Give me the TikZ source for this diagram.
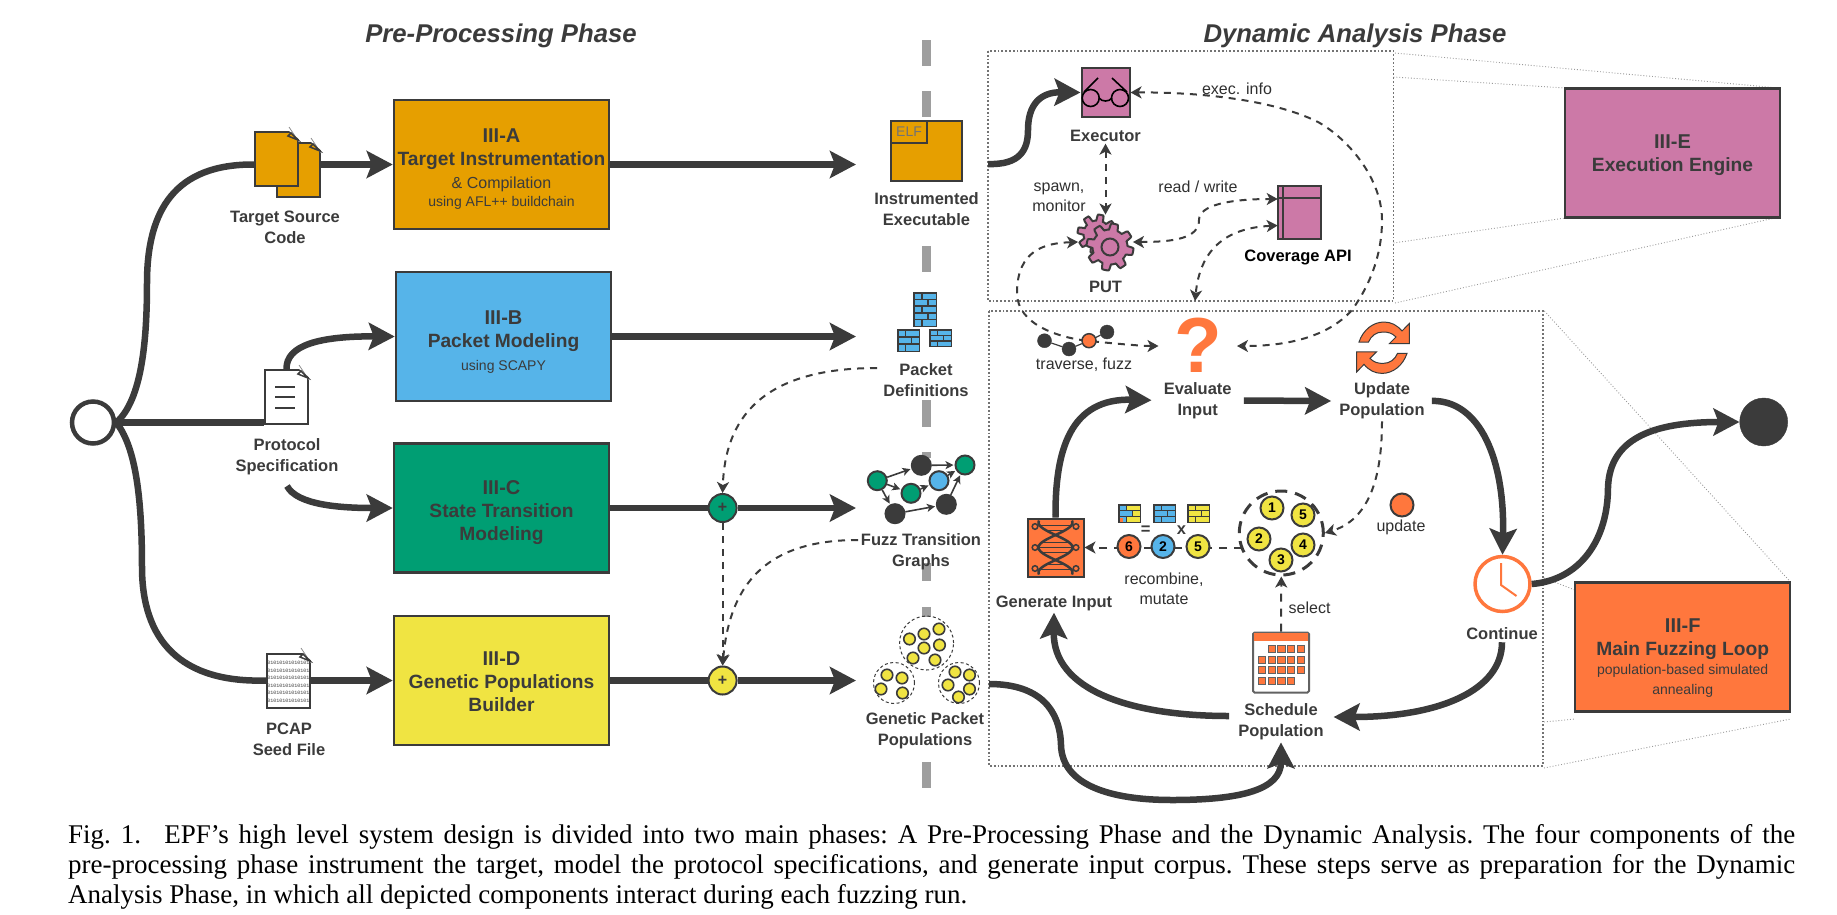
\documentclass[tikz,border=0pt]{standalone}
\usepackage{fontspec}
\setmainfont{Liberation Sans}
\setmonofont{Liberation Mono}
\newfontfamily\capfont{Liberation Serif}
\usetikzlibrary{arrows.meta}

\definecolor{ink}{HTML}{3B3B3B}
\definecolor{instrorange}{HTML}{E69F00}
\definecolor{pktblue}{HTML}{56B4E9}
\definecolor{stategreen}{HTML}{009E73}
\definecolor{geneyellow}{HTML}{F0E442}
\definecolor{enginepink}{HTML}{CC79A7}
\definecolor{looporange}{HTML}{FF773D}

\tikzset{
  phasebox/.style={draw=ink, line width=2.5pt, minimum width=215pt, minimum height=129pt, inner sep=0pt, align=center, text=ink, font=\fontsize{19.2}{23}\selectfont\bfseries},
  phasetitle/.style={text=ink, font=\fontsize{25.7}{30}\selectfont\bfseries\itshape},
  iconlabel/.style={text=ink, align=center, inner sep=2pt, font=\fontsize{16.5}{21}\selectfont\bfseries},
  linklabel/.style={text=ink!80!black, align=center, inner sep=1pt, font=\fontsize{16}{20}\selectfont},
  flowline/.style={draw=ink, line width=6.5pt},
  flow/.style={flowline, ->, >={Stealth[length=26pt,width=27pt,inset=5pt]}},
  link/.style={draw=ink, line width=2pt, dash pattern=on 7pt off 6pt, >={Stealth[length=11pt,width=12pt,inset=3pt]}},
  page/.style={draw=ink, line width=2pt, inner sep=0pt, minimum width=43pt, minimum height=54pt},
  plusdot/.style={circle, draw=ink, line width=2pt, minimum size=28pt, inner sep=0pt, text=ink, font=\fontsize{16}{16}\selectfont\bfseries},
  numdot/.style={circle, draw=ink, line width=2pt, minimum size=23pt, inner sep=0pt, text=black, font=\fontsize{14}{14}\selectfont\bfseries},
  graphdot/.style={circle, draw=ink, line width=2pt, minimum size=19pt, inner sep=0pt},
  pooldot/.style={circle, draw=ink, line width=1.6pt, fill=geneyellow, minimum size=11.5pt, inner sep=0pt},
  pool/.style={circle, draw=ink, line width=1pt, dash pattern=on 3pt off 2.5pt, inner sep=0pt},
  region/.style={draw=black!55, line width=1.8pt, dotted},
  zoomline/.style={draw=black!40, line width=0.9pt, dotted},
  axisline/.style={draw=black!38, line width=8.5pt},
  bits/.style={inner sep=0pt, text=ink, font=\fontsize{5}{5}\selectfont\ttfamily},
  edge/.style={draw=ink, line width=1.6pt, ->, >={Stealth[length=8pt,width=8pt,inset=2pt]}, shorten >=1pt}
}

% first line of a box: strut height, text
\newcommand{\boxhead}[2]{\rule{0pt}{#1pt}\fontsize{20}{23}\selectfont #2}
% corner of a page, top right at (#1,#2)
\newcommand{\cornerfold}[3]{
  \fill[white] (#1-10,#2-2) -- (#1+2,#2-2) -- (#1+2,#2+8) -- cycle;
  \draw[draw=black!45, line width=0.8pt] (#1-9,#2-5) -- (#1+1,#2+10);
  \draw[draw=ink, line width=1.5pt, fill=#3] (#1-10,#2+4) -- (#1-7,#2+1) -- (#1,#2+8) -- cycle;
}
% wall of bricks: left, top, right, bottom, rows, colours
\newcommand{\brickicon}[7]{
  \fill[ink] (#1,#2) rectangle (#3,#4);
  \foreach \k in {1,...,#5}{
    \pgfmathsetmacro{\rowtop}{#2+1.5+(\k-1)*(#4-#2-1.5)/#5}
    \pgfmathsetmacro{\rowbot}{\rowtop+(#4-#2-1.5)/#5-1.5}
    \pgfmathsetmacro{\brickcut}{#1+1.5+(#3-#1-3)*(mod(\k,2)==1 ? 0.35 : 0.65)}
    \fill[#6] (#1+1.5,\rowtop) rectangle (\brickcut-0.7,\rowbot);
    \fill[#7] (\brickcut+0.7,\rowtop) rectangle (#3-1.5,\rowbot);
  }
}
% toothed wheel: centre, radius
\newcommand{\gearwheel}[3]{
  \draw[draw=ink, line width=2pt, fill=enginepink] plot[domain=0:360, samples=193]
    ({#1+(#3-2.5+3*max(-1,min(1,2.6*sin(8*\x))))*cos(\x)}, {#2+(#3-2.5+3*max(-1,min(1,2.6*sin(8*\x))))*sin(\x)}) -- cycle;
}

\begin{document}
\begin{tikzpicture}[x=1pt,y=-1pt]
  \useasboundingbox (0,0) rectangle (1837,914);

  % the line between the two phases
  \foreach \ya/\yb in {40/66, 91/117, 246/272, 400/427, 452/458, 563/581, 607/617, 762/788}
    \draw[axisline] (926.5,\ya) -- (926.5,\yb);

  \node[phasetitle] (pretitle) at (501,36) {Pre-Processing Phase};
  \node[phasetitle] (dyntitle) at (1355,36) {Dynamic Analysis Phase};

  % regions and their zoom lines
  \draw[region] (988,51) rectangle (1393.5,301);
  \draw[region] (989,311) rectangle (1543,766);
  \draw[zoomline] (1395,53) -- (1779,88);
  \draw[zoomline] (1393.5,77) -- (1565,88);
  \draw[zoomline] (1393.5,243) -- (1565,218);
  \draw[zoomline] (1395,303) -- (1779,217);
  \draw[zoomline] (1544.4,311) -- (1790.5,582);
  \draw[zoomline] (1544,578) -- (1575,590);
  \draw[zoomline] (1544,722) -- (1575,719);
  \draw[zoomline] (1544,768) -- (1790.5,719);

  % pre-processing boxes
  \node[phasebox, fill=instrorange] (boxa) at (501.5,164.5) {\boxhead{22.4}{III-A}\\Target Instrumentation\\{\fontsize{16}{23}\selectfont\mdseries \& Compilation}\\[-5pt]{\fontsize{14}{23}\selectfont\mdseries using AFL++ buildchain}};
  \node[phasebox, fill=pktblue] (boxb) at (503.5,336.5) {\boxhead{25.4}{III-B}\\Packet Modeling\\{\fontsize{14}{23}\selectfont\mdseries using SCAPY}};
  \node[phasebox, fill=stategreen] (boxc) at (501.5,508) {\boxhead{22.4}{III-C}\\State Transition\\Modeling};
  \node[phasebox, fill=geneyellow] (boxd) at (501.5,680.5) {\boxhead{16.4}{III-D}\\Genetic Populations\\Builder};
  \node[phasebox, fill=enginepink] (boxe) at (1672.5,153) {\boxhead{18.4}{III-E}\\Execution Engine};
  \node[phasebox, fill=looporange] (boxf) at (1682.7,647) {\boxhead{35.4}{III-F}\\Main Fuzzing Loop\\[-4pt]{\fontsize{14}{23}\selectfont\mdseries population-based simulated}\\[-3pt]{\fontsize{14}{23}\selectfont\mdseries annealing}};

  % input files
  \node[circle, draw=ink, line width=4.5pt, fill=white, minimum size=42pt, inner sep=0pt] (start) at (93,422.5) {};
  \node[page, fill=instrorange] (srcback) at (298.5,170) {};
  \cornerfold{320}{143}{instrorange}
  \node[page, fill=instrorange] (srcfront) at (276.5,159) {};
  \cornerfold{298}{132}{instrorange}
  \node[page, fill=white] (protfile) at (286.5,397) {};
  \cornerfold{308}{370}{white}
  \foreach \ya in {387,397,408}
    \draw[draw=ink, line width=2pt] (275,\ya) -- (295,\ya);
  \node[page, fill=white] (pcapfile) at (288.5,680.5) {};
  \cornerfold{310}{653}{white}
  \foreach \ya in {663,671,678,686,693,701}
    \node[bits] (bits\ya) at (288.5,\ya) {01010101010101};

  \node[iconlabel] (srclabel) at (285,227) {Target Source\\Code};
  \node[iconlabel] (protlabel) at (287,457) {Protocol\\Specification};
  \node[iconlabel] (pcaplabel) at (289,739) {PCAP\\Seed File};

  % flows into the boxes
  \draw[flowline] (start.east) .. controls (142,400) and (147,340) .. (147,283) .. controls (147,210) and (175,164) .. (srcfront.west |- boxa.west);
  \draw[flowline] (start.east) -- (protfile.west |- start.east);
  \draw[flowline] (start.east) .. controls (134,445) and (142,490) .. (142,567) .. controls (142,640) and (180,683) .. (pcapfile.west);
  \draw[flow] (srcback.east |- boxa.west) -- (boxa.west);
  \draw[flow] (protfile.north) .. controls (286,345) and (320,336) .. (boxb.west);
  \coordinate (protout) at (287,486);
  \draw[flow] (protout) .. controls (297,505) and (340,508) .. (boxc.west);
  \draw[flow] (pcapfile.east) -- (boxd.west);

  % results of the boxes
  \node[draw=ink, line width=2pt, fill=instrorange, minimum width=71pt, minimum height=60pt, inner sep=0pt] (elf) at (926.5,151) {};
  \node[draw=ink, line width=2pt, minimum width=36pt, minimum height=22pt, inner sep=0pt, text=black!55, font=\fontsize{14}{14}\selectfont] (elftab) at (909,132) {ELF};
  \node[iconlabel] (elflabel) at (926.5,209) {Instrumented\\Executable};
  \brickicon{913}{292}{937}{327}{5}{pktblue}{pktblue}
  \brickicon{897}{329}{920}{352}{3}{pktblue}{pktblue}
  \brickicon{929}{329}{952}{347}{3}{pktblue}{pktblue}
  \node[iconlabel] (pktlabel) at (926,380) {Packet\\Definitions};
  \node[iconlabel] (fuzzlabel) at (921,552) {Fuzz Transition\\Graphs};
  \node[iconlabel] (poplabel) at (925,731) {Genetic Packet\\Populations};

  \coordinate (elftip) at (856,164.5);
  \coordinate (pkttip) at (856,336.5);
  \coordinate (graphtip) at (856,508);
  \coordinate (poptip) at (856,680.5);
  \node[plusdot, fill=stategreen] (plusc) at (722.6,508) {+};
  \node[plusdot, fill=geneyellow] (plusd) at (722.6,680.5) {+};
  \draw[flow] (boxa.east) -- (elftip);
  \draw[flow] (boxb.east) -- (pkttip);
  \draw[flowline] (boxc.east) -- (plusc);
  \draw[flow] (plusc) -- (graphtip);
  \draw[flowline] (boxd.east) -- (plusd);
  \draw[flow] (plusd) -- (poptip);

  \coordinate (pktout) at (877,368);
  \coordinate (fuzzout) at (858,540);
  \draw[link, ->] (pktout) .. controls (760,368) and (725,420) .. (plusc.north);
  \draw[link, ->] (plusc) -- (plusd);
  \draw[link, ->] (fuzzout) .. controls (770,540) and (730,580) .. (plusd.north);

  % transition graph
  \node[graphdot, fill=stategreen] (ga) at (877.3,480.7) {};
  \node[graphdot, fill=ink] (gb) at (921.3,465.3) {};
  \node[graphdot, fill=stategreen] (gc) at (965,465) {};
  \node[graphdot, fill=pktblue] (gd) at (939,480.7) {};
  \node[graphdot, fill=stategreen] (ge) at (911,493.3) {};
  \node[graphdot, fill=ink] (gf) at (946.3,504.3) {};
  \node[graphdot, fill=ink] (gg) at (895,513.7) {};
  \foreach \from/\to in {ga/gb, ga/ge, ga/gg, ge/gd, gd/gc, gb/gc, gg/gf, gf/gc}
    \draw[edge] (\from) -- (\to);

  % populations
  \node[pool, minimum size=54pt] (poolt) at (926.6,643) {};
  \node[pool, minimum size=41pt] (pooll) at (894,683) {};
  \node[pool, minimum size=41pt] (poolr) at (959,683) {};
  \foreach \i/\px/\py in {1/939/629, 2/924/634, 3/909.5/639, 4/924/648, 5/939.5/645, 6/913/658, 7/935/660,
      8/887/675, 9/902/678, 10/881/689, 11/902.5/693, 12/955/672, 13/969.5/675, 14/948/685, 15/969.5/689, 16/958.5/697}
    \node[pooldot] (pd\i) at (\px,\py) {};

  % execution engine
  \coordinate (elfout) at (988,164);
  \node[draw=ink, line width=2pt, fill=enginepink, minimum width=48pt, minimum height=49pt, inner sep=0pt] (execicon) at (1105.5,92.5) {};
  \draw[draw=black, line width=1.6pt] (1090.7,98) circle[radius=8.5] (1120,98) circle[radius=8.5];
  \draw[draw=black, line width=1.6pt] (1099,98) .. controls (1102,102) and (1109,102) .. (1112,98);
  \draw[draw=black, line width=1.6pt] (1084,92) -- (1098,78) (1127,92) -- (1112,78);
  \draw[flow] (elfout) .. controls (1020,165) and (1028,150) .. (1028,130) .. controls (1028,105) and (1040,92) .. (execicon.west);
  \node[iconlabel] (execlabel) at (1105.5,135.7) {Executor};
  \node[linklabel] (execinfo) at (1237,89) {exec. info};
  \node[linklabel] (spawnlabel) at (1059,197) {spawn,\\monitor};
  \node[linklabel] (rwlabel) at (1198,187) {read / write};

  \node[circle, minimum size=54.5pt, inner sep=0pt] (putnode) at (1105.5,242) {};
  \gearwheel{1097}{234}{19}
  \gearwheel{1110}{247}{23}
  \draw[draw=ink, line width=2pt] (1110,247) circle[radius=8.5];
  \node[iconlabel] (putlabel) at (1105.5,287) {PUT};

  \node[draw=ink, line width=2pt, fill=enginepink, minimum width=43pt, minimum height=53pt, inner sep=0pt] (covicon) at (1299,212.5) {};
  \draw[draw=ink, line width=2pt] (1277.7,198) -- (1320.5,198) (1283,186) -- (1283,239);
  \node[iconlabel, text=black] (covlabel) at (1298,257) {Coverage API};

  \coordinate (covtop) at (1277.7,199);
  \coordinate (covlow) at (1277.7,225.5);
  \coordinate (evaltop) at (1195,301);
  \coordinate (evalleft) at (1158.5,346);
  \coordinate (evalright) at (1237,346);
  \draw[link, <->] (execlabel.south) -- (putnode.north);
  \draw[link, <->] (putnode.east) .. controls (1175,242) and (1199,238) .. (1199,220) .. controls (1199,205) and (1230,199) .. (covtop);
  \draw[link, <->] (covlow) .. controls (1225,228) and (1200,250) .. (evaltop);
  \draw[link, <->] (putnode.west) .. controls (1045,243) and (1017,250) .. (1017,293) .. controls (1017,325) and (1060,338) .. (1089,341) .. controls (1110,343) and (1140,346) .. (evalleft);
  \draw[link, <->] (execicon.east) .. controls (1190,92) and (1270,98) .. (1318,122) .. controls (1350,140) and (1382,180) .. (1382,220) .. controls (1382,255) and (1370,285) .. (1352,310) .. controls (1325,340) and (1280,346) .. (evalright);

  % main loop, upper part
  \node[circle, draw=ink, fill=ink, minimum size=14pt, inner sep=0pt] (ta) at (1044.5,340.7) {};
  \node[circle, draw=ink, fill=ink, minimum size=14pt, inner sep=0pt] (tb) at (1069,349) {};
  \node[circle, draw=ink, line width=1.5pt, fill=looporange, minimum size=14pt, inner sep=0pt] (tc) at (1089,340.7) {};
  \node[circle, draw=ink, fill=ink, minimum size=14pt, inner sep=0pt] (td) at (1107,332) {};
  \draw[draw=ink, line width=1.2pt] (ta) -- (tb) (tb) -- (tc) (tc) -- (td);
  \node[linklabel] (travlabel) at (1084,365) {traverse, fuzz};

  \node[text=looporange, inner sep=0pt, font=\fontsize{78}{78}\selectfont\bfseries] (qmark) at (1198.5,345) {?};
  \node[iconlabel] (evallabel) at (1197.7,400.5) {Evaluate\\Input};
  \node[iconlabel] (updlabel) at (1382,401) {Update\\Population};
  \foreach \turn in {0,180}
    \draw[draw=ink, line width=1pt, fill=looporange, rotate around={\turn:(1383,347.7)}] (1359,342) .. controls (1363,330) and (1373,322) .. (1384,322) .. controls (1391,322) and (1397,325) .. (1402,331) -- (1409.3,323.5) -- (1409.3,343.5) -- (1389.5,343.5) -- (1396,337) .. controls (1392,333) and (1388,332) .. (1383,332) .. controls (1376,332) and (1371,336) .. (1368.5,342) -- cycle;

  \node[circle, draw=looporange, line width=3.5pt, fill=white, minimum size=55pt, inner sep=0pt] (clock) at (1502.5,584) {};
  \draw[draw=looporange, line width=2pt] (1501,563) -- (1501,585) -- (1516.5,596);
  \node[iconlabel] (contlabel) at (1502,634) {Continue};

  % generate input
  \node[draw=ink, line width=2pt, fill=looporange, minimum width=56pt, minimum height=58pt, inner sep=0pt] (dna) at (1055.5,547.5) {};
  \draw[draw=ink, line width=2.5pt, domain=-27:27, samples=40] plot ({1055.5+17*cos(7.2*\x)}, {547.5+\x});
  \draw[draw=ink, line width=2.5pt, domain=-27:27, samples=40] plot ({1055.5-17*cos(7.2*\x)}, {547.5+\x});
  \foreach \dy in {-22,-17,-5,0,5,17,22}
    \draw[draw=ink, line width=1.5pt] ({1055.5-17*cos(7.2*\dy)},547.5+\dy) -- ({1055.5+17*cos(7.2*\dy)},547.5+\dy);
  \foreach \dy in {-21,0,21}{
    \draw[draw=ink, line width=1.5pt] (1035,547.5+\dy) circle[radius=2.8] (1076,547.5+\dy) circle[radius=2.8];
  }
  \node[iconlabel] (genlabel) at (1054,603) {Generate Input};

  % schedule
  \node[draw=ink!80, line width=2pt, fill=white, rounded corners=1.5pt, minimum width=56pt, minimum height=60pt, inner sep=0pt] (calendar) at (1281,662.5) {};
  \fill[looporange] (1254,633) rectangle (1308,641);
  \foreach \cx/\cy in {1271.7/649, 1281.3/649, 1291/649, 1300.7/649,
      1261.7/659.7, 1271.7/659.7, 1281.3/659.7, 1291/659.7, 1300.7/659.7,
      1261.7/670, 1271.7/670, 1281.3/670, 1291/670, 1300.7/670,
      1261.7/680.7, 1271.7/680.7, 1281.3/680.7, 1291/680.7}
    \draw[draw=ink!80, line width=1pt, fill=looporange] (\cx-3.7,\cy-3.7) rectangle (\cx+3.7,\cy+3.7);
  \node[iconlabel] (schedlabel) at (1281,722) {Schedule\\Population};

  % thick flows of the loop
  \coordinate (schedin) at (1333.6,717);
  \coordinate (schedout) at (1229,716);
  \coordinate (popout) at (989,684);
  \draw[flow, shorten >=10pt] (dna.north) .. controls (1055,450) and (1070,398) .. (evallabel.west);
  \draw[flow, shorten <=10pt, shorten >=6pt] (evallabel.east) -- (updlabel.west);
  \draw[flow, shorten <=5pt] (updlabel.east) .. controls (1480,400) and (1505,460) .. (clock.north);
  \draw[flow] (contlabel.south) .. controls (1502,690) and (1440,717) .. (schedin);
  \draw[flow] (schedout) .. controls (1130,716) and (1053,690) .. (genlabel.south);
  \draw[flow] (popout) .. controls (1040,684) and (1060,710) .. (1061,745) .. controls (1062,785) and (1110,800) .. (1172,800) .. controls (1240,800) and (1281,790) .. (schedlabel.south);
  \node[circle, draw=ink, fill=ink, minimum size=48pt, inner sep=0pt] (finish) at (1763.7,422) {};
  \draw[flow] (clock.east) .. controls (1580,580) and (1608,540) .. (1608,487) .. controls (1610,440) and (1650,422) .. (finish.west);

  % recombination
  \node[circle, draw=ink, line width=3pt, dash pattern=on 12pt off 8pt, minimum size=84pt, inner sep=0pt] (cluster) at (1281.3,533) {};
  \coordinate (clusterout) at (1242,547.5);
  \draw[link, ->, dash pattern=on 8pt off 7pt] (clusterout) -- (dna.east);
  \draw[link, ->, dash pattern=on 8pt off 7pt] (calendar.north) -- (cluster.south);
  \draw[link, ->] (updlabel.south) .. controls (1382,480) and (1368,520) .. (cluster.east);
  \node[numdot, fill=geneyellow] (n1) at (1272,508) {1};
  \node[numdot, fill=geneyellow] (n5) at (1303,515) {5};
  \node[numdot, fill=geneyellow] (n2) at (1259,539) {2};
  \node[numdot, fill=geneyellow] (n4) at (1303,545) {4};
  \node[numdot, fill=geneyellow] (n3) at (1281,560) {3};
  \node[numdot, fill=looporange] (m6) at (1129,546.5) {6};
  \node[numdot, fill=pktblue] (m2) at (1163,546.5) {2};
  \node[numdot, fill=geneyellow] (m5) at (1198,546.5) {5};
  \brickicon{1118}{504}{1141}{523}{3}{pktblue}{geneyellow}
  \fill[looporange] (1119.5,518) rectangle (1123,521.5);
  \brickicon{1153}{504}{1176}{523}{3}{pktblue}{pktblue}
  \brickicon{1187}{504}{1210}{523}{3}{geneyellow}{geneyellow}
  \node[iconlabel] (eqsign) at (1145.7,530) {=};
  \node[iconlabel] (timessign) at (1181.5,530) {x};
  \node[linklabel] (recomblabel) at (1164,588.5) {recombine,\\mutate};
  \node[linklabel] (selectlabel) at (1309.6,608) {select};
  \node[circle, draw=ink, line width=2pt, fill=looporange, minimum size=23pt, inner sep=0pt] (upddot) at (1402,505) {};
  \node[linklabel] (updatelabel) at (1401,527) {update};

  % caption
  \node[anchor=north west, inner sep=0pt, text width=1727pt, align=justify, text=black, font=\capfont\fontsize{27}{30}\selectfont\frenchspacing] (caption) at (68,824) {Fig. 1.\hspace{0.5em} EPF’s high level system design is divided into two main phases: A Pre-Processing Phase and the Dynamic Analysis. The four components of the\linebreak pre-processing phase instrument the target, model the protocol specifications, and generate input corpus. These steps serve as preparation for the Dynamic\linebreak Analysis Phase, in which all depicted components interact during each fuzzing run.};
\end{tikzpicture}
\end{document}
